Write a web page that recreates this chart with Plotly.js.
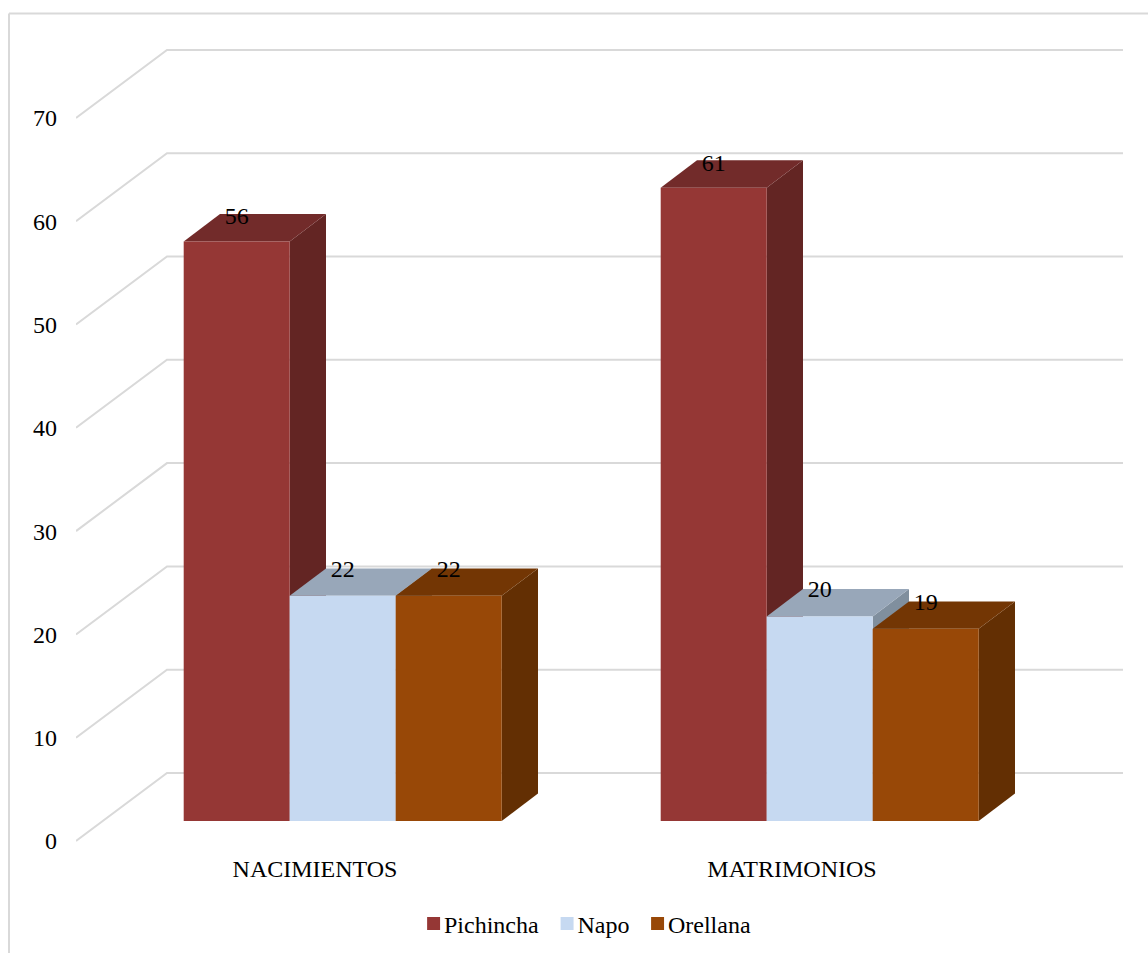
<!DOCTYPE html>
<html>
<head>
<meta charset="utf-8">
<script src="https://cdn.plot.ly/plotly-3.0.1.min.js"></script>
<style>html,body{margin:0;padding:0;background:#fff}#chart{width:1148px;height:953px}</style>
</head>
<body>
<div id="chart"></div>
<script>
// ---- data ----
const categories = ["NACIMIENTOS", "MATRIMONIOS"];
const seriesNames = ["Pichincha", "Napo", "Orellana"];
const pichincha = [56.1, 61.3];
const napo = [21.8, 19.8];
const orellana = [21.8, 18.6];
const pichinchaLabels = ["56", "61"];
const napoLabels = ["22", "20"];
const orellanaLabels = ["22", "19"];
const yTicks = [0, 10, 20, 30, 40, 50, 60, 70];

// ---- styles ----
const frontColors = ["#953735", "#c6d9f1", "#984807"];
const topColors = ["#722b2a", "#98a7b9", "#733604"];
const sideColors = ["#632523", "#808f9e", "#632f03"];
const gridColor = "#d9d9d9";
const textFont = {family: "Liberation Serif", size: 24, color: "#000"};

// ---- oblique-projection geometry, in axis units ----
const W = 1148, H = 953, mL = 76, mR = 25, mT = 20, mB = 98;
const pxPerCat = 477, pxPerVal = 10.33;
const barW = 106 / pxPerCat, shift = 27.7 / pxPerCat;
const depthX = 36.3 / pxPerCat, depthY = 27.4 / pxPerVal;
const xLeft = (mL - 315) / pxPerCat, xRight = (W - mR - 315) / pxPerCat;
const xBack = (167 - 315) / pxPerCat;
const wallRise = (841 - 773) / pxPerVal;
const labelLift = [2.25, 2.45, 2.45];

const allSeries = [pichincha, napo, orellana];
const allLabels = [pichinchaLabels, napoLabels, orellanaLabels];
const traces = [];

// walls / gridlines
yTicks.forEach(v => traces.push({
  type: "scatter", mode: "lines", x: [xLeft, xBack, xRight],
  y: [v, v + wallRise, v + wallRise], xaxis: "x", yaxis: "y",
  line: {color: gridColor, width: 2}, showlegend: false, hoverinfo: "skip"
}));

// side and top faces
const center = (c, s) => c + shift + (s - 1) * barW;
allSeries.forEach((vals, s) => {
  vals.forEach((v, c) => {
    const l = center(c, s) - barW / 2, r = center(c, s) + barW / 2;
    traces.push({type: "scatter", mode: "lines", fill: "toself", fillcolor: sideColors[s],
      x: [r, r + depthX, r + depthX, r, r], y: [0, depthY, v + depthY, v, 0],
      xaxis: "x", yaxis: "y2", line: {width: 0}, showlegend: false, hoverinfo: "skip"});
    traces.push({type: "scatter", mode: "lines", fill: "toself", fillcolor: topColors[s],
      x: [l, r, r + depthX, l + depthX, l], y: [v, v, v + depthY, v + depthY, v],
      xaxis: "x", yaxis: "y2", line: {width: 0}, showlegend: false, hoverinfo: "skip"});
  });
});

// front faces
allSeries.forEach((vals, s) => traces.push({
  type: "bar", name: seriesNames[s], x: vals.map((_, c) => center(c, s)), y: vals, width: barW,
  marker: {color: frontColors[s], line: {width: 0}}, xaxis: "x", yaxis: "y3"
}));

// data labels
allSeries.forEach((vals, s) => traces.push({
  type: "scatter", mode: "text", x: vals.map((_, c) => center(c, s)), y: vals.map(v => v + labelLift[s]),
  text: allLabels[s], textposition: "middle center", textfont: textFont, cliponaxis: false,
  xaxis: "x", yaxis: "y3", showlegend: false, hoverinfo: "skip"
}));

const plotW = W - mL - mR, plotH = H - mT - mB;
const yBottom = H - mB;
const frontRange = [-(yBottom - 821) / pxPerVal, (821 - mT) / pxPerVal];
const layout = {
  width: W, height: H, paper_bgcolor: "#fff", plot_bgcolor: "rgba(0,0,0,0)",
  margin: {l: mL, r: mR, t: mT, b: mB, autoexpand: false},
  font: textFont, showlegend: true, barmode: "overlay", hovermode: false,
  xaxis: {range: [xLeft, xRight], tickmode: "array", tickvals: [0, 1], ticktext: categories,
    ticks: "", ticklabelstandoff: -3, showgrid: false, zeroline: false, showline: false, tickfont: textFont, fixedrange: true},
  yaxis: {range: [-(yBottom - 841) / pxPerVal, (841 - mT) / pxPerVal], tickmode: "array", tickvals: yTicks,
    ticks: "", ticklabelstandoff: 18, showgrid: false, zeroline: false, showline: false, tickfont: textFont, fixedrange: true},
  yaxis2: {range: frontRange, overlaying: "y", visible: false, fixedrange: true},
  yaxis3: {range: frontRange, overlaying: "y", visible: false, fixedrange: true},
  legend: {orientation: "h", x: (404 - mL) / plotW, y: (yBottom - 924) / plotH, xanchor: "left", yanchor: "middle",
    font: textFont, bgcolor: "rgba(0,0,0,0)", borderwidth: 0},
  shapes: [
    {type: "line", xref: "paper", yref: "paper", x0: (9 - mL) / plotW, x1: (9 - mL) / plotW,
      y0: (yBottom - 13.5) / plotH, y1: (yBottom - 960) / plotH, line: {color: gridColor, width: 2}},
    {type: "line", xref: "paper", yref: "paper", x0: (9 - mL) / plotW, x1: (1155 - mL) / plotW,
      y0: (yBottom - 13.5) / plotH, y1: (yBottom - 13.5) / plotH, line: {color: gridColor, width: 2}}
  ]
};
Plotly.newPlot("chart", traces, layout, {displayModeBar: false, responsive: false}).then(gd => {
  // tighten the legend spacing: symbols sit right next to their text, as in the original
  gd.querySelectorAll(".legend .traces").forEach((g, i) => {
    const m = /translate\(([-\d.]+),\s*([-\d.]+)\)/.exec(g.getAttribute("transform"));
    if (m) g.setAttribute("transform", `translate(${parseFloat(m[1]) - 6.5 * i},${m[2]})`);
    const sym = g.querySelector(".legendsymbols");
    if (sym) sym.setAttribute("transform", "translate(8,0) scale(1.08)");
  });
});
</script>
</body>
</html>
